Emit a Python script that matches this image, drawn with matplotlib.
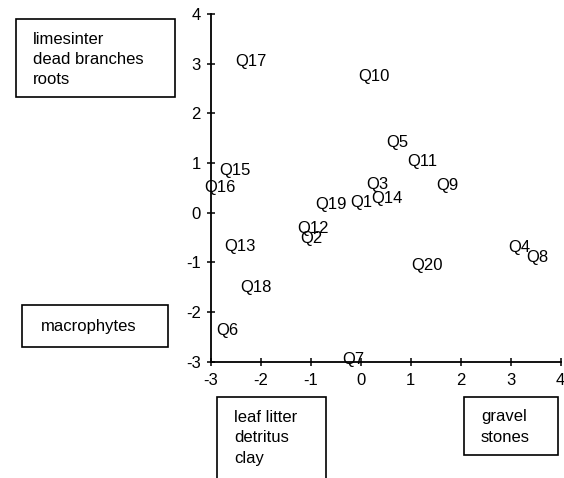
import matplotlib.pyplot as plt
from matplotlib.patches import Rectangle

plt.rcParams['font.family'] = ['Liberation Sans', 'DejaVu Sans']
plt.rcParams['axes.unicode_minus'] = False

# sample labels and their ordination scores
labels = ['Q1', 'Q2', 'Q3', 'Q4', 'Q5', 'Q6', 'Q7', 'Q8', 'Q9', 'Q10',
          'Q11', 'Q12', 'Q13', 'Q14', 'Q15', 'Q16', 'Q17', 'Q18', 'Q19', 'Q20']
x_vals = [-0.21, -1.20, 0.11, 2.95, 0.51, -2.88, -0.37, 3.32, 1.52, -0.05,
          0.93, -1.27, -2.73, 0.22, -2.83, -3.13, -2.51, -2.41, -0.91, 1.02]
y_vals = [0.21, -0.51, 0.56, -0.71, 1.41, -2.37, -2.95, -0.91, 0.55, 2.74,
          1.03, -0.31, -0.68, 0.29, 0.85, 0.50, 3.05, -1.51, 0.17, -1.07]

# substrate boxes: text lines, (left, top, right, bottom) in pixels
boxes = [
    (['limesinter', 'dead branches', 'roots'], (16, 19, 175, 97)),
    (['macrophytes'], (22, 305, 168, 347)),
    (['leaf litter', 'detritus', 'clay'], (217, 397, 326, 490)),
    (['gravel', 'stones'], (464, 397, 558, 455)),
]

W, H = 564, 478
fs = 12
fig = plt.figure(figsize=(W / 100, H / 100), dpi=100)
ax = fig.add_axes([210.7 / W, 1 - 361.7 / H, 350 / W, (361.7 - 14) / H])

for lab, x, y in zip(labels, x_vals, y_vals):
    ax.text(x, y, lab, fontsize=fs, ha='left', va='center', clip_on=False)

ax.set_xlim(-3, 4)
ax.set_ylim(-3, 4)
ax.set_xticks(range(-3, 5))
ax.set_yticks(range(-3, 5))
ax.spines['top'].set_visible(False)
ax.spines['right'].set_visible(False)
for s in ['left', 'bottom']:
    ax.spines[s].set_linewidth(1.3)
ax.tick_params(direction='inout', length=6, width=1.1, labelsize=fs)
ax.tick_params(axis='x', pad=5)
ax.tick_params(axis='y', pad=4)

for lines, (l, t, r, b) in boxes:
    fig.patches.append(Rectangle((l / W, 1 - b / H), (r - l) / W, (b - t) / H,
                                 transform=fig.transFigure, fill=False,
                                 edgecolor='black', linewidth=1.2))
    if len(lines) == 1:
        fig.text((l + 19) / W, 1 - (t + b) / 2 / H, lines[0], fontsize=fs,
                 va='center')
    else:
        for i, line in enumerate(lines):
            fig.text((l + 17) / W, 1 - (t + 20 + i * 20.5) / H, line,
                     fontsize=fs, va='center')

fig.savefig('out.png', dpi=100)
